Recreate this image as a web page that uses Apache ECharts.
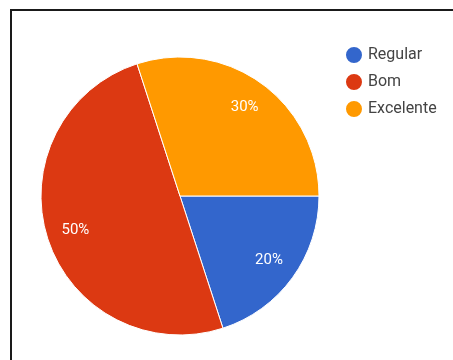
<!DOCTYPE html>
<html>
<head>
<meta charset="utf-8">
<script src="https://cdn.jsdelivr.net/npm/echarts@6/dist/echarts.min.js"></script>
<style>html,body{margin:0;padding:0;background:#fff}#c{width:453px;height:360px}</style>
</head>
<body>
<div id="c"></div>
<script>
const categories = ['Regular', 'Bom', 'Excelente'];
const values = [20, 50, 30];
const colors = ['#3366cc', '#dc3912', '#ff9900'];

const data = categories.map((n, i) => ({ name: n, value: values[i] }));
const chart = echarts.init(document.getElementById('c'), null, { renderer: 'canvas' });
chart.setOption({
  animation: false,
  color: colors,
  legend: {
    data: categories,
    orient: 'vertical',
    left: 339,
    top: 40,
    icon: 'circle',
    itemWidth: 18,
    itemHeight: 18,
    itemGap: 7,
    textStyle: { fontFamily: 'Roboto', fontSize: 16, color: '#444', padding: [0, 0, 0, 0] }
  },
  graphic: [{
    type: 'polyline',
    shape: { points: [[11, 362], [11, 10], [455, 10]] },
    style: { stroke: '#1a1a1a', lineWidth: 2, fill: null }
  }],
  series: [{
    type: 'pie',
    center: [180, 196],
    radius: [0, 139],
    startAngle: 0,
    clockwise: true,
    label: { show: false },
    labelLine: { show: false },
    itemStyle: { borderColor: '#fff', borderWidth: 1 },
    emphasis: { disabled: true },
    data: data
  }, {
    type: 'pie',
    center: [180, 196],
    radius: [75, 139],
    startAngle: 0,
    clockwise: true,
    silent: true,
    legendHoverLink: false,
    itemStyle: { color: 'rgba(0,0,0,0)', borderWidth: 0 },
    label: {
      show: true,
      position: 'inside',
      formatter: '{d}%',
      color: '#fff',
      fontFamily: 'Roboto',
      fontSize: 15
    },
    labelLine: { show: false },
    emphasis: { disabled: true },
    data: data
  }]
});
</script>
</body>
</html>
